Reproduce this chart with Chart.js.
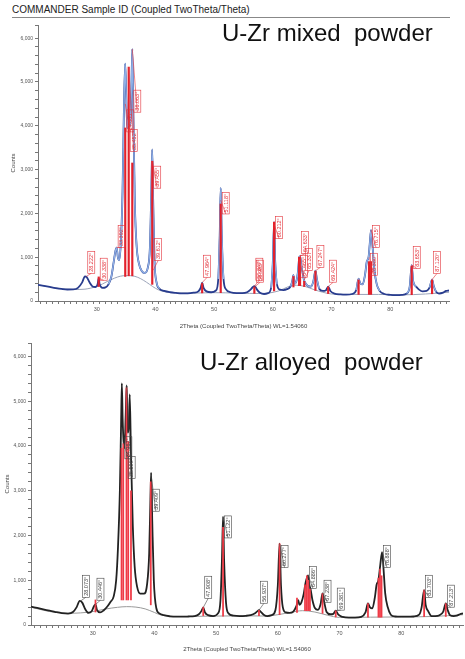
<!DOCTYPE html>
<html>
<head>
<meta charset="utf-8">
<script src="https://cdn.jsdelivr.net/npm/chart.js@4"></script>
<style>
  html, body { margin: 0; padding: 0; background: #fff; }
  body { width: 465px; height: 659px; position: relative; overflow: hidden; font-family: "Liberation Sans", Arial, sans-serif; }
  #hdr { position: absolute; left: 12px; top: 4px; font-size: 10px; color: #222; white-space: nowrap; }
  #rule { position: absolute; left: 12px; top: 17px; width: 438px; border-top: 1px solid #888; }
  .big { position: absolute; font-size: 24px; line-height: 1; color: #111; white-space: pre; }
  .wrap { position: absolute; left: 0; width: 465px; }
</style>
</head>
<body>
<div id="hdr">COMMANDER Sample ID (Coupled TwoTheta/Theta)</div>
<div id="rule"></div>
<div class="wrap" style="top:20px;height:315px"><canvas id="mixedChart" width="465" height="315"></canvas></div>
<div class="wrap" style="top:338px;height:321px"><canvas id="alloyChart" width="465" height="321"></canvas></div>
<div class="big" style="left:222px;top:21px">U-Zr mixed  powder</div>
<div class="big" style="left:200px;top:350px">U-Zr alloyed  powder</div>
<script>
// U-Zr mixed powder: measured scan [2theta, counts]
const mixedScan = [[20,370],[21,345],[22,320],[23,295],[24,275],[25,262],[26,265],[26.8,300],[27.5,420],[28,560],[28.3,545],[28.8,420],[29.3,330],[29.8,320],[30.15,380],[30.34,520],[30.5,380],[31,300],[31.5,310],[32,380],[32.5,560],[32.9,900],[33.2,1150],[33.4,1220],[33.6,1000],[33.8,930],[34.1,1300],[34.4,2500],[34.65,4500],[34.85,5420],[35,4800],[35.2,3950],[35.45,4200],[35.7,4000],[35.9,4800],[36.06,5750],[36.25,4200],[36.5,2200],[36.8,1250],[37.2,850],[37.7,680],[38.2,640],[38.7,760],[39.05,1200],[39.3,2500],[39.45,3460],[39.6,2400],[39.85,900],[40.2,420],[40.7,280],[41.5,230],[42.5,200],[43.5,185],[44.5,175],[45.5,175],[46.5,190],[47.3,220],[47.7,300],[47.96,420],[48.2,300],[48.7,220],[49.5,200],[50.3,240],[50.7,500],[50.95,1500],[51.12,2580],[51.3,1500],[51.6,500],[52,270],[52.8,200],[53.8,180],[54.8,180],[55.6,200],[56.2,260],[56.6,320],[56.85,340],[57,330],[57.3,260],[57.8,190],[58.5,160],[59.2,180],[59.7,300],[60,900],[60.21,1800],[60.4,900],[60.7,380],[61.2,260],[61.8,250],[62.4,270],[63,330],[63.3,450],[63.5,590],[63.7,400],[64,450],[64.3,700],[64.5,1000],[64.65,1020],[64.8,860],[65,700],[65.3,480],[65.6,400],[66,340],[66.5,330],[66.9,450],[67.25,690],[67.5,500],[67.9,280],[68.5,230],[69,240],[69.42,330],[69.8,230],[70.5,170],[71.5,150],[72.5,145],[73.5,160],[74.2,250],[74.6,510],[74.9,400],[75.3,380],[75.7,600],[76,900],[76.3,1000],[76.5,1300],[76.72,1620],[76.95,1300],[77.3,700],[77.7,380],[78.2,230],[79,160],[80,140],[81,135],[82,140],[82.8,170],[83.3,320],[83.65,820],[83.9,450],[84.4,330],[84.9,260],[85.5,220],[86.2,230],[86.7,310],[87.12,490],[87.4,340],[87.8,210],[88.3,170],[89,190],[89.5,230],[90,240]];
const mixedBackground = [[20,370],[22,320],[24,280],[26,262],[28,270],[29,295],[30,330],[31,390],[32,460],[33,520],[34,565],[35,580],[36,575],[37,540],[38,470],[39,380],[40,290],[41,230],[43,190],[46,180],[50,190],[54,180],[58,170],[61,230],[62.5,320],[64,360],[65.5,330],[67,260],[68.5,200],[70,160],[74,150],[78,150],[82,140],[86,160],[90,200]];
// fitted peak regions shown in light blue
const mixedFitRanges = [[31.8,41],[50.4,51.9],[59.5,61],[62.8,68],[74,78.3],[82.8,84.6],[86.4,88]];
// reference sticks [2theta, from, to]
const mixedSticks = [[30.34,330,550],[34.86,560,3950],[35.45,575,5340],[36.06,575,3150],[39.46,380,3190],[47.96,185,400],[51.12,190,2215],[56.85,175,320],[60.21,230,1800],[63.5,320,560],[64.47,350,1000],[64.63,350,1000],[65.34,330,450],[67.25,240,680],[69.42,170,320],[74.6,150,480],[76.38,150,900],[76.72,150,900],[83.65,145,800],[87.12,165,480]];
const mixedLabels = ["28.222°","30.338°","33.392°","34.863°","35.452°","36.063°","39.455°","39.612°","47.964°","51.118°","56.847°","56.983°","60.212°","64.465°","64.633°","65.337°","67.247°","69.424°","76.380°","76.715°","83.653°","87.120°"];
const mixedLabelBase = [632,474,1220,3860,3410,4310,2575,925,542,1987,474,429,1422,542,1084,700,768,429,587,1219,745,632];
const mixedLabelTip = [560,520,1220,4500,5340,5750,3200,700,420,2300,340,330,1750,950,1020,480,690,330,1000,1620,820,490];

// U-Zr alloyed powder
const alloyScan = [[20,410],[21,380],[22,350],[23,320],[24,290],[25,265],[26,255],[26.8,290],[27.4,400],[27.9,540],[28.3,500],[28.8,350],[29.3,270],[29.8,300],[30.2,420],[30.45,460],[30.7,330],[31.2,280],[31.8,330],[32.4,420],[32.9,520],[33.4,640],[33.8,1000],[34.1,1750],[34.4,3000],[34.6,4500],[34.72,5400],[34.85,4600],[35,4100],[35.15,3950],[35.35,4700],[35.5,5350],[35.65,4300],[35.85,4400],[36,5150],[36.2,3800],[36.5,2200],[36.8,1300],[37.2,850],[37.7,700],[38.3,700],[38.8,900],[39.15,1600],[39.35,2800],[39.47,3400],[39.65,2300],[39.9,1000],[40.3,380],[40.8,260],[41.5,220],[42.5,195],[43.5,185],[44.5,185],[45.5,190],[46.5,200],[47.2,240],[47.6,310],[47.91,390],[48.2,280],[48.7,220],[49.5,200],[50.3,260],[50.7,550],[50.95,1500],[51.12,2420],[51.3,1400],[51.6,500],[52,260],[52.8,210],[53.8,200],[54.8,205],[55.6,220],[56.3,260],[56.7,310],[56.94,330],[57.2,300],[57.7,230],[58.3,200],[59,220],[59.6,330],[60,900],[60.28,1815],[60.5,900],[60.8,400],[61.3,280],[61.9,270],[62.5,300],[63,420],[63.3,555],[63.5,450],[63.8,500],[64.2,700],[64.5,950],[64.89,1110],[65.1,900],[65.3,800],[65.6,560],[66,380],[66.5,340],[66.9,450],[67.24,705],[67.5,520],[67.9,290],[68.5,240],[69,250],[69.38,320],[69.8,230],[70.5,180],[71.5,165],[72.5,165],[73.5,180],[74.2,280],[74.6,480],[74.9,400],[75.3,370],[75.7,600],[76,900],[76.3,1000],[76.6,1350],[76.89,1630],[77.1,1300],[77.4,700],[77.8,400],[78.3,230],[79,190],[80,185],[81,185],[82,190],[82.9,230],[83.3,400],[83.7,780],[83.95,450],[84.4,300],[84.9,200],[85.5,200],[86.2,220],[86.8,300],[87.21,480],[87.5,340],[87.9,220],[88.5,200],[89,210],[89.5,240],[90,260]];
const alloyBackground = [[20,400],[22,330],[24,280],[26,262],[28,270],[30,300],[32,355],[34,395],[35.5,410],[37,400],[38.5,360],[40,280],[41,225],[44,190],[50,200],[55,205],[58,200],[60,230],[62,280],[64,320],[66,290],[68,220],[70,170],[75,175],[80,180],[85,190],[90,230]];
const alloySticks = [[30.45,290,560],[34.67,560,3950],[34.95,560,4050],[35.47,560,5300],[35.75,560,4100],[36.2,560,3000],[39.41,450,3200],[47.91,210,400],[51.12,200,2180],[56.94,210,330],[60.28,230,1815],[63.1,280,600],[64.4,320,900],[64.7,320,1100],[64.95,320,1000],[65.2,320,800],[67.24,260,705],[69.38,180,320],[74.6,175,480],[76.3,175,1050],[76.55,175,1250],[76.8,175,1100],[83.7,185,780],[87.21,190,480]];
const alloyLabels = ["28.073°","30.446°","34.967°","35.500°","39.409°","47.908°","51.122°","56.937°","60.277°","64.886°","67.238°","69.381°","76.888°","83.703°","87.213°"];
const alloyLabelBase = [619,553,3713,3271,2542,597,1945,486,1282,818,508,332,1282,619,398];
const alloyLabelTip = [540,460,4100,5350,3400,390,2420,330,1815,1110,705,320,1630,780,480];

Chart.defaults.font.family = '"Liberation Sans", Arial, sans-serif';

const xy = arr => arr.map(([x, y]) => ({ x, y }));
const inRanges = (t, ranges) => ranges.some(([a, b]) => t >= a && t <= b);

// rotated peak position tags
const peakLabels = {
  id: 'peakLabels',
  afterDatasetsDraw(chart, args, opts) {
    const { ctx, scales: { x, y } } = chart;
    ctx.save();
    ctx.font = '5.5px "Liberation Sans", Arial';
    ctx.strokeStyle = opts.color;
    ctx.fillStyle = opts.color;
    ctx.lineWidth = 0.6;
    opts.text.forEach((t, i) => {
      const px = x.getPixelForValue(parseFloat(t));
      const bx = px + 5;
      const by = y.getPixelForValue(opts.base[i]);
      const ty = y.getPixelForValue(opts.tip[i]);
      ctx.beginPath();
      ctx.moveTo(px, ty);
      ctx.lineTo(bx, by);
      ctx.stroke();
      const w = ctx.measureText(t).width + 3;
      ctx.save();
      ctx.translate(bx, by);
      ctx.rotate(-Math.PI / 2);
      ctx.strokeRect(0, -3.5, w, 7);
      ctx.textBaseline = 'middle';
      ctx.fillText(t, 1.5, 0.3);
      ctx.restore();
    });
    ctx.restore();
  }
};

function axes(yWidth, yTitlePad, xTitlePad) {
  return {
    x: {
      type: 'linear', min: 20, max: 90, offset: false,
      grid: { drawOnChartArea: false, tickLength: 3, color: '#777' },
      border: { color: '#777' },
      ticks: { stepSize: 1, autoSkip: false, maxRotation: 0, padding: 2, color: '#555', font: { size: 5.5 },
        callback: v => (v % 10 === 0 && v > 20 && v < 90) ? v : '' },
      title: { display: true, text: '2Theta (Coupled TwoTheta/Theta) WL=1.54060', color: '#444', font: { size: 6 }, padding: { top: 0, bottom: xTitlePad } },
      afterFit: s => { s.height = 34; }
    },
    y: {
      min: 0, max: 6300,
      grid: { drawOnChartArea: false, tickLength: 3, color: '#777' },
      border: { color: '#777' },
      ticks: { stepSize: 200, autoSkip: false, padding: 2, color: '#555', font: { size: 5 },
        callback: v => v % 1000 === 0 ? v.toLocaleString('en-US') : '' },
      title: { display: true, text: 'Counts', color: '#444', font: { size: 6 }, padding: { top: yTitlePad, bottom: 0 } },
      afterFit: s => { s.width = yWidth; }
    }
  };
}

const common = {
  responsive: false,
  animation: false,
  events: [],
  plugins: { legend: { display: false }, tooltip: { enabled: false } }
};

new Chart(document.getElementById('mixedChart'), {
  type: 'line',
  data: {
    datasets: [
      { type: 'bar', data: mixedSticks.map(([t, a, b]) => ({ x: t, y: [a, b] })), backgroundColor: '#e3212b', barThickness: 1.5, grouped: false, order: 0 },
      { data: mixedScan.map(([x, y]) => ({ x, y: inRanges(x, mixedFitRanges) ? y : null })), borderColor: '#8fb0e6', borderWidth: 1.4, pointRadius: 0, cubicInterpolationMode: 'monotone', spanGaps: false, order: 1 },
      { data: xy(mixedScan), borderColor: '#283c8e', borderWidth: 1.8, pointRadius: 0, cubicInterpolationMode: 'monotone', order: 2 },
      { data: xy(mixedBackground), borderColor: '#9aa3b8', borderWidth: 1, pointRadius: 0, cubicInterpolationMode: 'monotone', order: 3 }
    ]
  },
  options: {
    ...common,
    layout: { padding: { top: 2, right: 16, left: 0, bottom: 0 } },
    scales: axes(38, 10, 5),
    plugins: { ...common.plugins, peakLabels: { text: mixedLabels, base: mixedLabelBase, tip: mixedLabelTip, color: '#e3323a' } }
  },
  plugins: [peakLabels]
});

new Chart(document.getElementById('alloyChart'), {
  type: 'line',
  data: {
    datasets: [
      { type: 'bar', data: alloySticks.map(([t, a, b]) => ({ x: t, y: [a, b] })), backgroundColor: '#ef3a46', barThickness: 1.1, grouped: false, order: 0 },
      { data: xy(alloyScan), borderColor: '#222', borderWidth: 1.8, pointRadius: 0, cubicInterpolationMode: 'monotone', order: 2 },
      { data: xy(alloyBackground), borderColor: '#999', borderWidth: 1, pointRadius: 0, cubicInterpolationMode: 'monotone', order: 3 }
    ]
  },
  options: {
    ...common,
    layout: { padding: { top: 2, right: 0, left: 0, bottom: 0 } },
    scales: axes(31, 3.5, 6.4),
    plugins: { ...common.plugins, peakLabels: { text: alloyLabels, base: alloyLabelBase, tip: alloyLabelTip, color: '#444' } }
  },
  plugins: [peakLabels]
});
</script>
</body>
</html>
